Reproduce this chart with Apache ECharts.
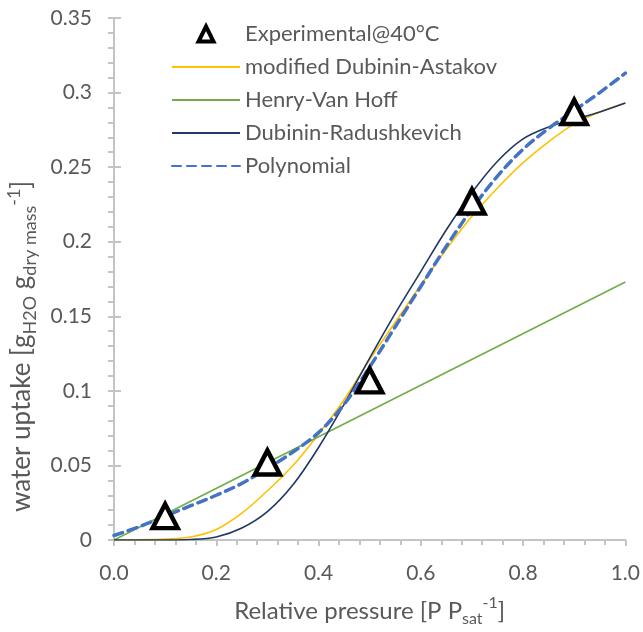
<!DOCTYPE html>
<html>
<head>
<meta charset="utf-8">
<script src="https://cdn.jsdelivr.net/npm/echarts@6/dist/echarts.min.js"></script>
<style>html,body{margin:0;padding:0;background:#fff;}#c{width:643px;height:632px;}</style>
</head>
<body>
<div id="c"></div>
<script>
// ---- data ----
const pressure = [0, 0.05, 0.1, 0.15, 0.2, 0.25, 0.3, 0.35, 0.4, 0.45, 0.5, 0.55, 0.6, 0.65, 0.7, 0.75, 0.8, 0.85, 0.9, 0.95, 1.0];
const modifiedDA = [0, 0.0002, 0.0006, 0.002, 0.007, 0.018, 0.033, 0.05, 0.071, 0.094, 0.121, 0.146, 0.171, 0.195, 0.217, 0.236, 0.253, 0.267, 0.279, 0.287, 0.293];
const dubininR = [0, 0, 0, 0.0003, 0.002, 0.008, 0.019, 0.037, 0.062, 0.091, 0.122, 0.152, 0.180, 0.208, 0.233, 0.254, 0.269, 0.277, 0.282, 0.287, 0.293];
const polynomial = [0.003, 0.009, 0.016, 0.023, 0.030, 0.038, 0.048, 0.059, 0.072, 0.091, 0.116, 0.143, 0.170, 0.197, 0.222, 0.244, 0.262, 0.276, 0.288, 0.300, 0.313];
const henryX = [0, 1.0];
const henryY = [0, 0.173];
const expX = [0.1, 0.3, 0.5, 0.7, 0.9];
const expY = [0.016, 0.052, 0.107, 0.227, 0.287];
const xTickLabels = ['0.0', '0.2', '0.4', '0.6', '0.8', '1.0'];
const yTickLabels = ['0', '0.05', '0.1', '0.15', '0.2', '0.25', '0.3', '0.35'];
const seriesNames = ['Experimental@40°C', 'modified Dubinin-Astakov', 'Henry-Van Hoff', 'Dubinin-Radushkevich', 'Polynomial'];

const FONT = 'Lato';
const TXT = '#595959';
const AX = '#c4c4c4';

const pair = (xs, ys) => xs.map((x, i) => [x, ys[i]]);

const chart = echarts.init(document.getElementById('c'), null, {renderer: 'canvas'});

const baseX = {
  type: 'value', min: 0, max: 1, interval: 0.2, gridIndex: 0,
  splitLine: {show: false}
};
const baseY = {
  type: 'value', min: 0, max: 0.35, interval: 0.05, gridIndex: 0, position: 'left',
  splitLine: {show: false}
};

const titleRich = {
  a: {color: TXT, fill: TXT, fontFamily: FONT, fontSize: 24, lineHeight: 32},
  sub: {color: TXT, fill: TXT, fontFamily: FONT, fontSize: 16, lineHeight: 16, verticalAlign: 'bottom'},
  sup: {color: TXT, fill: TXT, fontFamily: FONT, fontSize: 16, lineHeight: 18, verticalAlign: 'top'}
};
const yTitleRich = {
  a: {fill: TXT, fontFamily: FONT, fontSize: 26, lineHeight: 34},
  sub: {fill: TXT, fontFamily: FONT, fontSize: 18, lineHeight: 18, verticalAlign: 'bottom'},
  sup: {fill: TXT, fontFamily: FONT, fontSize: 18, lineHeight: 20, verticalAlign: 'top'}
};

const option = {
  animation: false,
  backgroundColor: '#ffffff',
  grid: {left: 114, right: 14, top: 18, bottom: 89, containLabel: false},
  xAxis: [
    Object.assign({}, baseX, {
      axisLine: {show: true, lineStyle: {color: AX, width: 2}},
      axisTick: {show: true, inside: false, length: 6, lineStyle: {color: AX, width: 2}},
      minorTick: {show: true, splitNumber: 5, length: 5, lineStyle: {color: AX, width: 2}},
      axisLabel: {
        color: TXT, fontFamily: FONT, fontSize: 21, margin: 23,
        formatter: v => xTickLabels[Math.round(v / 0.2)]
      },
      name: '{a|Relative pressure [P P}{sub|sat}{sup|-1}{a|]}',
      nameLocation: 'middle', nameGap: 55,
      nameTextStyle: {color: TXT, fontFamily: FONT, fontSize: 24, rich: titleRich}
    }),
    Object.assign({}, baseX, {
      axisLine: {show: false},
      axisTick: {show: true, inside: true, length: 6, lineStyle: {color: AX, width: 2}},
      minorTick: {show: false},
      axisLabel: {show: false}
    })
  ],
  yAxis: [
    Object.assign({}, baseY, {
      axisLine: {show: true, lineStyle: {color: AX, width: 2}},
      axisTick: {show: true, inside: false, length: 6, lineStyle: {color: AX, width: 2}},
      minorTick: {show: true, splitNumber: 5, length: 6, lineStyle: {color: AX, width: 2}},
      axisLabel: {
        color: TXT, fontFamily: FONT, fontSize: 21, margin: 22,
        formatter: v => yTickLabels[Math.round(v / 0.05)]
      }
    }),
    Object.assign({}, baseY, {
      axisLine: {show: false},
      axisTick: {show: true, inside: true, length: 7, lineStyle: {color: AX, width: 2}},
      minorTick: {show: false},
      axisLabel: {show: false}
    })
  ],
  legend: {
    orient: 'vertical', left: 171, top: 23, padding: 0,
    itemWidth: 68, itemHeight: 15, itemGap: 11,
    textStyle: {color: TXT, fontFamily: FONT, fontSize: 22},
    data: [
      {name: seriesNames[0], icon: 'path://M0,-1L1,1L-1,1Z', itemStyle: {color: '#ffffff', borderColor: '#000000', borderWidth: 4, opacity: 1}},
      {name: seriesNames[1], itemStyle: {opacity: 0}},
      {name: seriesNames[2], itemStyle: {opacity: 0}},
      {name: seriesNames[3], itemStyle: {opacity: 0}},
      {name: seriesNames[4], itemStyle: {opacity: 0}}
    ]
  },
  graphic: [{
    type: 'text', x: 22, y: 512, rotation: Math.PI / 2,
    style: {
      text: '{a|water uptake [g}{sub|H2O}{a| g}{sub|dry mass}{sup|-1}{a|]}',
      align: 'left', verticalAlign: 'middle',
      fill: TXT, fontFamily: FONT, fontSize: 26,
      rich: yTitleRich
    }
  }],
  series: [
    {
      name: seriesNames[1], type: 'line', data: pair(pressure, modifiedDA),
      smooth: 0.35, symbol: 'none', z: 2,
      lineStyle: {color: '#FFC000', width: 1.6}, itemStyle: {color: '#FFC000'}
    },
    {
      name: seriesNames[2], type: 'line', data: pair(henryX, henryY),
      symbol: 'none', z: 2,
      lineStyle: {color: '#70AD47', width: 1.6}, itemStyle: {color: '#70AD47'}
    },
    {
      name: seriesNames[3], type: 'line', data: pair(pressure, dubininR),
      smooth: 0.35, symbol: 'none', z: 2,
      lineStyle: {color: '#203864', width: 1.6}, itemStyle: {color: '#203864'}
    },
    {
      name: seriesNames[4], type: 'line', data: pair(pressure, polynomial),
      smooth: 0.35, symbol: 'none', z: 3,
      lineStyle: {color: '#4472C4', width: 3.5, type: [9, 6], cap: 'round'}, itemStyle: {color: '#4472C4'}
    },
    {
      name: seriesNames[0], type: 'scatter', data: pair(expX, expY),
      symbol: 'triangle', symbolSize: [25, 24], z: 5,
      itemStyle: {color: '#ffffff', borderColor: '#000000', borderWidth: 4.5, opacity: 1}
    }
  ]
};
chart.setOption(option);
</script>
</body>
</html>
